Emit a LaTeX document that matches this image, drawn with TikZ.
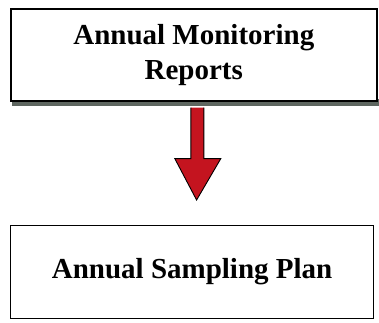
\documentclass[tikz,border=0pt]{standalone}
\usepackage{fontspec}
\setmainfont{Liberation Serif}
\usetikzlibrary{calc}
\definecolor{arrowred}{HTML}{C4141F}
\definecolor{shadowgray}{HTML}{5E6660}
\tikzset{
  planbox/.style={draw, fill=white, align=center, anchor=north west,
    font=\bfseries\fontsize{29}{35}\selectfont}
}
\begin{document}
\begin{tikzpicture}
        [x=1pt,y=-1pt]
        \useasboundingbox (0,0) rectangle (379,322);

        % shadow under the top box
        \fill[shadowgray] (12,99) rectangle (379,106);
        \node[planbox, line width=1.6pt, minimum width=366pt, minimum height=92pt] (reports) at (10,8) {Annual Monitoring\\Reports};
        \node[planbox, line width=1.2pt, minimum width=363pt, minimum height=93pt] (plan) at (10,225) {Annual Sampling Plan};

        % block arrow
        \draw[fill=arrowred, line width=0.9pt, line join=miter]
          ($(reports.south)+(-3,6)$) -- ($(reports.south)+(-3,57)$)
          -- ($(reports.south)+(-19,57)$) -- ($(plan.north)+(4.5,-25)$)
          -- ($(reports.south)+(27,57)$) -- ($(reports.south)+(10,57)$)
          -- ($(reports.south)+(10,6)$);
      \end{tikzpicture}
\end{document}
